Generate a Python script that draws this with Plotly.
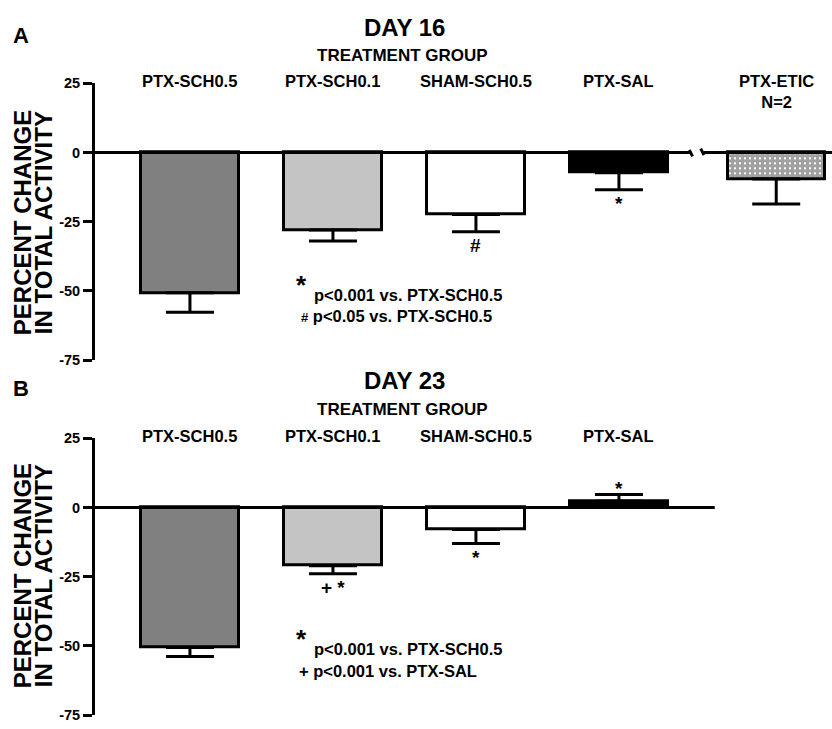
import plotly.graph_objects as go

# ---------------- data ----------------
groups_day16 = ["PTX-SCH0.5", "PTX-SCH0.1", "SHAM-SCH0.5", "PTX-SAL", "PTX-ETIC"]
mean_day16 = [-50.7, -28.0, -22.4, -7.3, -9.6]
sem_day16 = [7.0, 4.0, 6.2, 6.2, 9.0]
sig_day16 = ["", "", "#", "*", ""]

groups_day23 = ["PTX-SCH0.5", "PTX-SCH0.1", "SHAM-SCH0.5", "PTX-SAL"]
mean_day23 = [-50.6, -21.0, -7.9, 2.3]
sem_day23 = [3.2, 2.9, 5.1, 2.4]
sig_day23 = ["", "+ *", "*", "*"]

y_ticks = [25, 0, -25, -50, -75]
bar_colors = ["#808080", "#c4c4c4", "#ffffff", "#000000", "#ffffff"]

# ---------------- layout helpers ----------------
W, H = 832, 729
FONT = "Liberation Sans, Arial, sans-serif"
BREAK_GAP = 0.1          # extra spacing before the broken-axis group
pos16 = [i + (BREAK_GAP if i == 4 else 0) for i in range(len(groups_day16))]
pos23 = list(range(len(groups_day23)))
X_RANGE = [-0.664, 4.49]


def pxx(p):
    return p / W


def pxy(p):
    return 1 - p / H


fig = go.Figure()


def add_panel(pos, means, sems, xa, ya):
    plus = [s if m > 0 else 0 for m, s in zip(means, sems)]
    minus = [0 if m > 0 else s for m, s in zip(means, sems)]
    shapes = ["+" if i == 4 else "" for i in range(len(means))]
    fig.add_trace(go.Bar(
        x=pos, y=means, width=0.68,
        marker=dict(color=bar_colors[:len(means)],
                    line=dict(color="black", width=3),
                    pattern=dict(shape=shapes, fgcolor="black", bgcolor="white",
                                 size=5, solidity=0.85)),
        error_y=dict(type="data", symmetric=False, array=plus, arrayminus=minus,
                     color="black", thickness=3, width=24),
        xaxis=xa, yaxis=ya, showlegend=False, hoverinfo="skip",
    ))


add_panel(pos16, mean_day16, sem_day16, "x", "y")
add_panel(pos23, mean_day23, sem_day23, "x2", "y2")

yax = dict(range=[-75, 25], tickvals=y_ticks, ticktext=[str(v) for v in y_ticks],
           showline=True, linewidth=3, linecolor="black", ticks="outside",
           ticklen=9, tickwidth=3, tickcolor="black", showgrid=False, zeroline=False,
           tickfont=dict(family=FONT, size=14.5, color="black", weight="bold"),
           fixedrange=True)
xax = dict(range=X_RANGE, visible=False, fixedrange=True, domain=[pxx(95), 1.0])

fig.update_layout(
    width=W, height=H,
    margin=dict(l=0, r=0, t=0, b=0),
    paper_bgcolor="white", plot_bgcolor="white",
    bargap=0,
    xaxis=dict(**xax, anchor="y"),
    yaxis=dict(**yax, domain=[pxy(360), pxy(77)], anchor="x"),
    xaxis2=dict(**xax, anchor="y2"),
    yaxis2=dict(**yax, domain=[pxy(723), pxy(440)], anchor="x2"),
)

# ---------------- zero lines (with axis break in panel A) ----------------
brk = (pos16[3] + pos16[4]) / 2
shapes = [
    dict(type="line", xref="x", yref="y", x0=X_RANGE[0], x1=brk - 0.052, y0=0, y1=0,
         line=dict(color="black", width=3)),
    dict(type="line", xref="x", yref="y", x0=brk + 0.045, x1=X_RANGE[1], y0=0, y1=0,
         line=dict(color="black", width=3)),
    dict(type="line", xref="x", yref="y", x0=brk - 0.058, x1=brk - 0.035, y0=0.9, y1=-1.4,
         line=dict(color="black", width=3)),
    dict(type="line", xref="x", yref="y", x0=brk + 0.022, x1=brk + 0.045, y0=1.4, y1=-0.9,
         line=dict(color="black", width=3)),
    dict(type="line", xref="x2", yref="y2", x0=X_RANGE[0], x1=pos23[-1] + 0.67, y0=0, y1=0,
         line=dict(color="black", width=3)),
]
fig.update_layout(shapes=shapes)

ann = []


def text(x, y, s, size, xanchor="center", yanchor="middle", angle=0):
    ann.append(dict(x=pxx(x), y=pxy(y), xref="paper", yref="paper", text=s,
                    showarrow=False, xanchor=xanchor, yanchor=yanchor, textangle=angle,
                    font=dict(family=FONT, size=size, color="black", weight="bold")))


for top, panel, day in [(0, "A", "DAY 16"), (361, "B", "DAY 23")]:
    text(21, top + 28, panel, 22)
    text(404, top + 20, day, 24)
    text(402, top + 49, "TREATMENT GROUP", 17)
    text(22, top + 220, "PERCENT CHANGE", 24, angle=-90)
    text(43, top + 220, "IN TOTAL ACTIVITY", 24, angle=-90)

# category labels
for xa, ya, pos, groups in [("x", "y", pos16, groups_day16), ("x2", "y2", pos23, groups_day23)]:
    for p, g in zip(pos, groups):
        label = g + ("<br>N=2" if g == "PTX-ETIC" else "")
        ann.append(dict(x=p, y=25, xref=xa, yref=ya, text=label, showarrow=False,
                        xanchor="center", yanchor="top", yshift=13,
                        font=dict(family=FONT, size=16.5, color="black", weight="bold")))

# significance markers
for xa, ya, pos, means, sems, sig in [("x", "y", pos16, mean_day16, sem_day16, sig_day16),
                                      ("x2", "y2", pos23, mean_day23, sem_day23, sig_day23)]:
    for p, m, s, t in zip(pos, means, sems, sig):
        if not t:
            continue
        up = m > 0
        ann.append(dict(x=p, y=m + s if up else m - s, xref=xa, yref=ya, text=t,
                        showarrow=False, xanchor="center",
                        yanchor="bottom" if up else "top",
                        yshift=-6 if up else -1,
                        font=dict(family=FONT, size=19, color="black", weight="bold")))

# p-value notes
text(301, 283, "*", 26)
text(312, 293, "p&lt;0.001 vs. PTX-SCH0.5", 16.5, xanchor="left")
text(299, 315, "<span style='font-size:13px'>#</span> p&lt;0.05 vs. PTX-SCH0.5", 16.5, xanchor="left")
text(301, 645, "*", 26)
text(312, 655, "p&lt;0.001 vs. PTX-SCH0.5", 16.5, xanchor="left")
text(297, 678, "+ p&lt;0.001 vs. PTX-SAL", 16.5, xanchor="left")

fig.update_layout(annotations=ann)
fig.write_html("out.html", config={"displayModeBar": False},
               post_script="document.body.style.margin='0';")
